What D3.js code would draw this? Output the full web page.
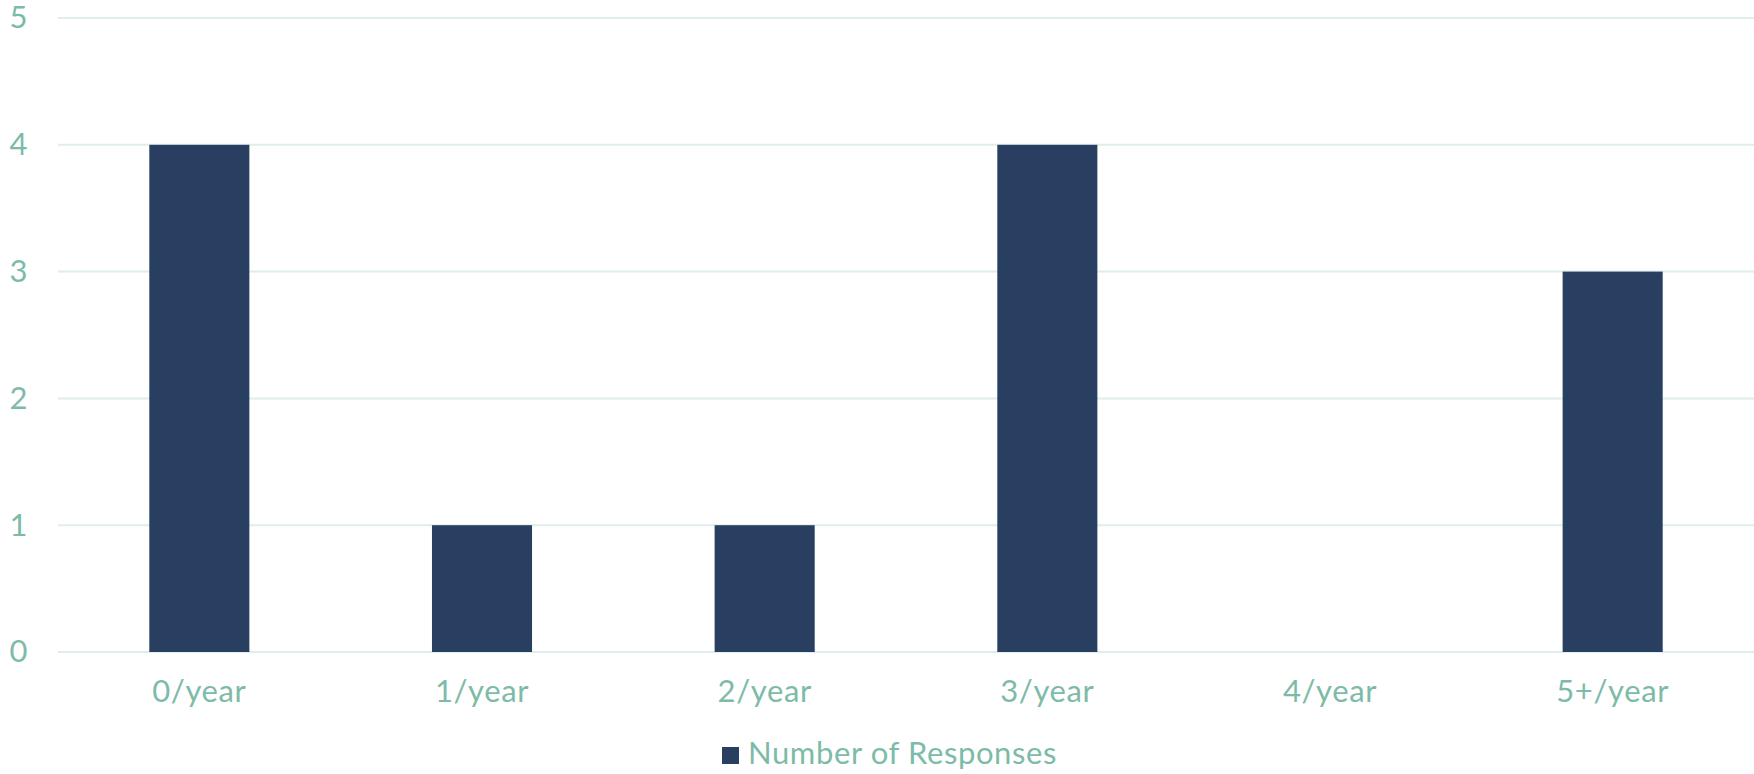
<!DOCTYPE html>
<html>
<head>
<meta charset="utf-8">
<script src="https://cdn.jsdelivr.net/npm/d3@7/dist/d3.min.js"></script>
<style>
  html, body { margin: 0; padding: 0; background: #ffffff; }
  svg { display: block; }
  text { font-family: Lato, "Open Sans", sans-serif; fill: #7dbba8; letter-spacing: 0.6px; }
</style>
</head>
<body>
<svg id="chart" width="1754" height="774"></svg>
<script>
// Survey: how many times per year
const categories = ["0/year", "1/year", "2/year", "3/year", "4/year", "5+/year"];
const responses = [4, 1, 1, 4, 0, 3];
const yTicks = [0, 1, 2, 3, 4, 5];
const seriesName = "Number of Responses";

const W = 1754, H = 774;
const margin = { top: 18, right: 0, bottom: 122, left: 58 };
const fontSize = 31;

const svg = d3.select("#chart");

const x = d3.scaleBand()
  .domain(categories)
  .range([margin.left, W - margin.right])
  .paddingInner(0.646)
  .paddingOuter(0.323);

const y = d3.scaleLinear()
  .domain([0, 5])
  .range([H - margin.bottom, margin.top]);

// Horizontal gridlines
svg.append("g")
  .selectAll("line")
  .data(yTicks)
  .join("line")
  .attr("x1", margin.left)
  .attr("x2", W - margin.right)
  .attr("y1", d => y(d))
  .attr("y2", d => y(d))
  .attr("stroke", "#deeeeb")
  .attr("stroke-width", 2);

// Y axis labels
const yAxis = d3.axisLeft(y)
  .tickValues(yTicks)
  .tickFormat(d3.format("d"))
  .tickSize(0)
  .tickPadding(0);
const gy = svg.append("g")
  .attr("transform", `translate(28,0)`)
  .call(yAxis);
gy.select(".domain").remove();
gy.selectAll("text")
  .attr("font-size", fontSize)
  .attr("fill", "#7dbba8")
  .style("font-family", "Lato, 'Open Sans', sans-serif");

// Bars
svg.append("g")
  .selectAll("rect")
  .data(categories.map((c, i) => ({ c, v: responses[i] })))
  .join("rect")
  .attr("x", d => x(d.c))
  .attr("width", x.bandwidth())
  .attr("y", d => y(d.v))
  .attr("height", d => y(0) - y(d.v))
  .attr("fill", "#283f62");

// X axis labels
const xAxis = d3.axisBottom(x).tickSize(0).tickPadding(0);
const gx = svg.append("g")
  .attr("transform", `translate(0,${y(0) + 50})`)
  .call(xAxis);
gx.select(".domain").remove();
gx.selectAll("text")
  .attr("dy", 0)
  .attr("font-size", fontSize)
  .attr("fill", "#7dbba8")
  .style("font-family", "Lato, 'Open Sans', sans-serif");

// Legend
const legend = svg.append("g").attr("transform", "translate(722,747)");
legend.append("rect")
  .attr("width", 17)
  .attr("height", 17)
  .attr("fill", "#283f62");
legend.append("text")
  .attr("x", 26)
  .attr("y", 16.5)
  .attr("font-size", fontSize)
  .text(seriesName);
</script>
</body>
</html>
